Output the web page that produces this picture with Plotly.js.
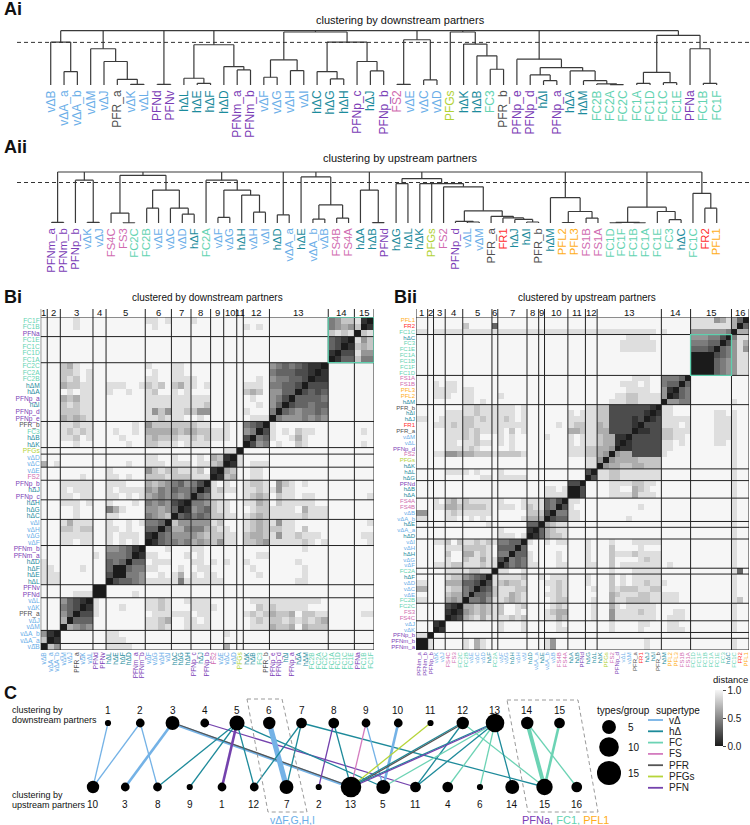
<!DOCTYPE html>
<html><head><meta charset="utf-8">
<script src="https://cdn.plot.ly/plotly-3.0.1.min.js"></script>
<style>body{margin:0;background:#fff}</style>
</head><body><div id="chart" style="width:750px;height:825px"></div>
<script>
// ================= DATA =================
const downLabels = ['vΔB','vΔA_a','vΔA_b','vΔM','vΔJ','PFR_a','vΔK','vΔL','PFNd','PFNv','hΔL','hΔE','hΔF','hΔD','PFNm_a','PFNm_b','vΔF','vΔG','vΔH','vΔI','hΔC','hΔG','hΔH','PFNp_c','hΔJ','PFNp_b','FS2','vΔE','vΔC','vΔD','PFGs','hΔK','hΔB','FC3','PFR_b','PFNp_e','PFNp_d','hΔI','PFNp_a','hΔA','hΔM','FC2B','FC2A','FC2C','FC1A','FC1D','FC1C','FC1E','PFNa','FC1B','FC1F'];
const downClusterSizes = [1,2,5,2,6,4,3,3,2,2,1,4,9,4,3];
const upLabels = ['PFNm_a','PFNm_b','PFNp_b','vΔK','vΔJ','FS4C','FS3','FC2C','FC2B','vΔE','vΔC','vΔD','hΔF','FC2A','vΔF','vΔG','hΔH','vΔH','vΔI','hΔD','vΔA_a','hΔE','vΔA_b','vΔB','FS4B','FS4A','hΔA','hΔB','PFNd','hΔG','hΔL','hΔK','PFGs','FS2','PFNp_d','vΔL','vΔM','PFR_a','FR1','hΔJ','hΔI','PFR_b','hΔM','PFL2','PFL3','FS1B','FS1A','FC1D','FC1F','FC1B','FC1A','FC1E','FC3','hΔC','FC1C','FR2','PFL1'];
const upClusterSizes = [2,1,2,3,5,1,5,2,1,4,3,2,11,5,7,3];
const upNodeOrder = [10,3,8,9,1,12,7,2,13,5,11,4,6,14,15,16];
const downCut = 0.804;
const upCut = 0.794;

// dendrograms: [height, child, child, ...]; leaves are type names
const treeDown = [1.025,
  [0.81, 'vΔB', [0.253, 'vΔA_a', 'vΔA_b']],
  [0.684, 'vΔM', [0.443, 'vΔJ', [0.108, 'PFR_a', [0.013, 'vΔK', 'vΔL']]]],
  [0.012, 'PFNd', 'PFNv'],
  [0.759, [0.127, 'hΔL', [0.032, 'hΔE', 'hΔF']], [0.348, 'hΔD', [0.285, 'PFNm_a', 'PFNm_b']]],
  [1.0, [0.475, [0.146, 'vΔF', 'vΔG'], [0.272, 'vΔH', 'vΔI']],
        [0.81, [0.253, 'hΔC', [0.114, 'hΔG', 'hΔH']], [0.443, 'PFNp_c', [0.266, 'hΔJ', 'PFNp_b']]]],
  [0.854, [0.013, 'FS2', 'vΔE'], [0.095, 'vΔC', 'vΔD']],
  [1.0, 'PFGs', [0.772, 'hΔK', [0.551, 'hΔB', [0.297, 'FC3', 'PFR_b']]]],
  [0.487, 'PFNp_e', [0.329, [0.19, 'PFNp_d', [0.082, 'hΔI', 'PFNp_a']], [0.266, 'hΔA', [0.082, 'hΔM', [0.02, 'FC2B', [0.006, 'FC2A', 'FC2C']]]]]],
  [0.937, [0.24, [0.032, 'FC1A', 'FC1D'], [0.044, 'FC1C', 'FC1E']], [0.684, 'PFNa', [0.032, 'FC1B', 'FC1F']]]
];
const treeUp = [1.0,
  [0.013, 'PFNm_a', 'PFNm_b'],
  [0.839, 'PFNp_b', [0.013, 'vΔK', 'vΔJ']],
  [0.935, [0.194, 'FS4C', [0.005, 'FS3', 'FC2C']], [0.645, [0.29, 'FC2B', 'vΔE'], [0.29, 'vΔC', [0.174, 'vΔD', 'hΔF']]]],
  [0.839, 'FC2A', [0.645, [0.11, 'vΔF', 'vΔG'], [0.548, 'hΔH', [0.213, 'vΔH', 'vΔI']]]],
  [0.161, 'hΔD', 'vΔA_a'],
  [0.903, 'hΔE', [0.355, [0.077, 'vΔA_b', 'vΔB'], [0.097, 'FS4B', 'FS4A']]],
  [0.645, 'hΔA', [0.006, 'hΔB', 'PFNd']],
  [0.871, [0.774, 'hΔG', 'hΔL'], [0.774, 'hΔK', 'PFGs', [0.71, 'FS2', [0.239, [0.03, 'PFNp_d', [0.02, 'vΔL', 'vΔM']], [0.13, 'PFR_a', [0.1, 'FR1', [0.07, 'hΔJ', [0.02, 'hΔI', 'PFR_b']]]]]]]],
  [0.497, 'hΔM', [0.226, [0.01, 'PFL2', 'PFL3'], [0.097, 'FS1B', 'FS1A']]],
  [0.31, [0.012, [0.005, 'FC1D', 'FC1F'], [0.005, 'FC1B', 'FC1A']], [0.226, 'FC1E', [0.065, 'FC3', 'hΔC']]],
  [0.581, 'FC1C', [0.29, 'FR2', 'PFL1']]
];

// distance matrices, lower triangle, row i (i>=1) lists columns 0..i-1; digit d = distance d/9
const distDown = [
"7","5 1","9 99","9 99 6","9 99 53","9 99 432","9 99 5321","9 99 99888","9 99 99999 0",
"8 88 99999 99","8 88 99999 99 2","8 89 99989 99 30","8 99 99999 99 343","9 99 99999 89 4443","9 99 99999 99 55431",
"9 99 88988 99 898989","9 99 88888 99 898889 1","9 99 77877 99 889899 33","9 99 86888 99 899898 443",
"9 99 99899 99 889999 4567","9 99 99899 99 468999 5565 3","9 99 88898 99 899989 4545 21",
"9 99 88988 99 889898 6545 454","9 99 89888 99 898888 5645 344 3","9 99 88888 99 888999 6765 435 42",
"9 99 99989 99 889899 7778 777 888","9 99 99999 99 899999 5787 788 879 1",
"6 98 99999 99 999899 8889 888 988 76","9 99 99999 99 999999 8899 899 989 67 1",
"9 99 99999 99 999999 9999 999 999 99 88",
"9 99 99899 99 999899 7788 898 888 99 99 9","9 99 88798 99 998999 7677 788 787 88 89 9 2",
"9 99 87878 99 989989 6666 676 677 88 89 9 54","9 99 88788 99 999989 5777 777 788 99 89 9 432",
"9 99 67678 99 999999 8878 889 989 99 99 9 9888","9 99 77788 99 999999 8575 887 755 99 99 9 8999 4",
"9 99 78788 99 999999 8888 888 887 99 99 9 9989 53","9 99 67688 99 999999 8888 888 888 99 99 9 9899 542",
"9 99 98988 99 899899 8799 898 999 99 99 9 7679 5533","9 99 67788 99 888998 7879 768 898 99 99 9 8889 44332",
"9 99 78798 99 999999 8899 888 899 99 99 9 9989 544332","9 99 77898 99 999999 9899 889 999 99 99 9 9999 4333221",
"9 99 76899 99 999999 8999 889 999 99 99 9 9999 54343211",
"9 99 99999 99 999999 9999 999 999 99 99 9 9999 999999999","9 99 99999 99 999999 9999 999 999 99 99 9 9999 999999999 1",
"9 99 99999 99 999999 9999 999 999 99 99 9 9999 999999999 32","9 99 99999 99 999999 9999 999 999 99 99 9 9999 999999999 321",
"9 99 99999 99 999999 9999 999 999 99 99 9 9999 999999999 7878","9 99 99899 99 999999 9899 999 999 99 99 9 8989 999999999 4565 7",
"9 99 99899 99 999999 8898 999 899 99 99 9 9999 999999999 4577 81"
];
const distUp = [
"0","88","99 9","99 9 1","99 9 99","99 9 99 1","99 9 99 21","88 9 99 656","99 9 99 766 4","66 9 99 877 43",
"88 9 99 666 332","99 9 99 877 5432","99 9 99 888 87788","99 9 88 877 88878 8","99 9 99 899 78868 8 2",
"99 9 99 799 66878 9 44","99 9 99 888 77778 9 333","99 9 88 797 88787 8 4433","99 9 99 999 99999 9 88898",
"99 9 99 999 99999 9 89999 1","99 9 99 999 99998 9 99999 33","88 9 99 889 98989 9 99998 66 6",
"55 9 99 878 88888 9 99999 77 7 2","99 9 88 667 77778 9 88898 78 8 34","99 9 89 768 78888 9 89998 88 8 342",
"99 9 99 999 99999 9 99999 99 9 8888","99 9 99 999 99999 9 99999 99 9 8898 0","99 9 99 999 99999 9 99999 99 9 9999 22",
"99 9 99 999 99988 9 88888 99 9 9999 999","99 9 99 888 89899 9 89999 99 9 9999 999 2",
"99 9 99 999 99999 9 99999 99 9 9999 999 88","99 9 99 999 99999 9 99999 99 9 9999 999 88 5",
"99 9 88 556 66777 8 77778 99 9 9999 888 77 65","99 9 99 888 87899 9 99899 99 9 9999 888 77 665",
"99 9 99 889 88788 9 89899 99 9 9999 898 88 7661","99 9 99 888 78799 9 89899 99 9 8999 898 88 76611",
"99 9 99 888 78788 8 89798 99 9 9999 667 88 662222","99 9 88 878 77888 8 88888 99 9 9989 877 88 6722221",
"88 9 98 888 77878 8 87898 99 9 9999 888 88 77222212","99 9 99 888 88788 8 88898 99 9 9999 898 88 772222221",
"99 9 99 999 88788 8 88898 99 9 9999 999 88 7722222221",
"99 9 99 999 88989 9 99999 99 9 9999 999 99 99888778888","99 9 88 899 88999 9 89999 99 9 9999 999 99 99988778888 5",
"99 9 88 889 88999 9 99999 99 9 9999 999 99 99999888899 51","99 9 89 889 99999 9 99999 99 9 9999 999 99 99998889899 433",
"99 9 99 999 99999 9 99999 99 9 9999 999 99 99999988899 4443",
"99 9 99 999 99999 9 99999 99 9 9999 999 99 99999999999 99999","99 9 99 999 99999 9 99999 99 9 9999 999 99 99999999999 99999 0",
"99 9 99 999 99999 9 99999 99 9 9999 999 99 99999999999 99999 00","99 9 99 999 99999 9 99999 99 9 9999 999 99 99999999999 99999 000",
"99 9 99 999 99999 9 99999 99 9 9999 999 99 99998888889 99999 3332","99 9 99 999 99999 9 99999 99 9 9999 999 99 99998888889 99999 44433",
"99 9 99 999 99999 9 99999 99 9 9999 999 99 99999888899 99999 555442",
"88 9 88 888 88888 8 88888 88 8 8888 888 88 88888888889 89999 5555554",
"99 9 99 999 79999 3 99999 99 9 9999 999 99 99999999999 99999 8888888 6",
"99 9 99 999 99999 9 99999 99 9 9999 999 99 99999999999 99999 8888568 63"
];
const sizeLegend = [5, 10, 15];
const supertypes = ['vΔ','hΔ','FC','FS','PFR','PFGs','PFN'];
const distTicks = [0, 0.5, 1];

// ================= STYLE =================
const FONT = 'Liberation Sans, Arial, Helvetica, sans-serif';
const labelColor = {'vΔ':'#6aaee8','hΔ':'#1b8b9c','FC':'#63d3b1','FS':'#d06bb0','PFR':'#505050','PFGs':'#b2d235','PFN':'#7b3db6','FR':'#ff2e2e','PFL':'#ffae1a'};
const lineColor = {'vΔ':'#74b2e6','hΔ':'#1d8a9a','FC':'#6cd3b4','FS':'#d47cbf','PFR':'#555555','PFGs':'#b6d53a','PFN':'#7442ad'};
function superOf(n){
  if (n.startsWith('vΔ')) return 'vΔ';
  if (n.startsWith('hΔ')) return 'hΔ';
  if (n.startsWith('FC')) return 'FC';
  if (n.startsWith('FS')) return 'FS';
  if (n.startsWith('FR')) return 'FR';
  if (n.startsWith('PFR')) return 'PFR';
  if (n.startsWith('PFGs')) return 'PFGs';
  if (n.startsWith('PFL')) return 'PFL';
  return 'PFN';
}
const colored = n => '<span style="color:' + labelColor[superOf(n)] + '">' + n + '</span>';
const W = 750, H = 825;
const px = x => x / W, py = y => 1 - y / H;

// ================= BUILD =================
function treeLines(tree, labels){
  const xs = [], ys = [];
  function rec(node){
    if (typeof node === 'string') return {x: labels.indexOf(node), h: 0};
    const h = node[0];
    const kids = node.slice(1).map(rec);
    const xv = kids.map(k => k.x);
    const xmin = Math.min(...xv), xmax = Math.max(...xv);
    kids.forEach(k => { xs.push(k.x, k.x, null); ys.push(k.h, h, null); });
    xs.push(xmin, xmax, null); ys.push(h, h, null);
    return {x: (xmin + xmax) / 2, h};
  }
  rec(tree);
  return {xs, ys};
}
function buildMatrix(rows, n){
  const z = Array.from({length: n}, () => Array(n).fill(1));
  for (let i = 0; i < n; i++) z[i][i] = 0;
  rows.forEach((s, k) => {
    const i = k + 1, t = s.replace(/\s+/g, '');
    for (let j = 0; j < i; j++) {
      const c = t[j];
      const v = (c === undefined) ? 1 : parseInt(c, 10) / 9;
      z[i][j] = v; z[j][i] = v;
    }
  });
  return z;
}
function cuts(sizes){ const c = [0]; sizes.forEach(s => c.push(c[c.length - 1] + s)); return c; }
function clusterOf(labels, sizes){
  const m = {}; let idx = 0;
  sizes.forEach((s, c) => { for (let k = 0; k < s; k++) m[labels[idx++]] = c + 1; });
  return m;
}

const traces = [];
const shapes = [];
const annotations = [];

// ---- A: dendrograms ----
const tD = treeLines(treeDown, downLabels);
traces.push({x: tD.xs, y: tD.ys, xaxis: 'x', yaxis: 'y', mode: 'lines', line: {color: '#3a3a3a', width: 1.2}, hoverinfo: 'skip'});
const tU = treeLines(treeUp, upLabels);
traces.push({x: tU.xs, y: tU.ys, xaxis: 'x2', yaxis: 'y2', mode: 'lines', line: {color: '#3a3a3a', width: 1.2}, hoverinfo: 'skip'});
shapes.push({type: 'line', xref: 'paper', yref: 'y', x0: px(17), x1: 1, y0: downCut, y1: downCut, line: {color: '#333', width: 1, dash: '4px,3px'}});
shapes.push({type: 'line', xref: 'paper', yref: 'y2', x0: px(17), x1: 1, y0: upCut, y1: upCut, line: {color: '#333', width: 1, dash: '4px,3px'}});

// ---- B: heatmaps ----
const zDown = buildMatrix(distDown, downLabels.length);
const zUp = buildMatrix(distUp, upLabels.length);
const cscale = [[0, '#1b1b1b'], [1, '#f6f6f6']];
traces.push({type: 'heatmap', z: zDown, xaxis: 'x3', yaxis: 'y3', zmin: 0, zmax: 1, colorscale: cscale, showscale: false, hoverinfo: 'skip'});
traces.push({type: 'heatmap', z: zUp, xaxis: 'x4', yaxis: 'y4', zmin: 0, zmax: 1, colorscale: cscale, hoverinfo: 'skip',
  colorbar: {x: px(715), xanchor: 'left', y: py(718), yanchor: 'middle', len: 56, lenmode: 'pixels', thickness: 8,
    outlinewidth: 0, xpad: 0, ypad: 0, tickvals: distTicks, ticktext: distTicks.map(v => v.toFixed(1)),
    ticks: 'outside', ticklen: 3, tickfont: {size: 10, family: FONT, color: '#222'}}});

function heatDecor(sizes, xr, yr){
  const c = cuts(sizes), N = c[c.length - 1];
  c.forEach(b => {
    shapes.push({type: 'line', xref: xr, yref: 'paper', x0: b - 0.5, x1: b - 0.5, y0: py(650), y1: py(309), line: {color: '#222', width: 1}});
    shapes.push({type: 'line', xref: xr, yref: yr, x0: -0.5, x1: N - 0.5, y0: b - 0.5, y1: b - 0.5, line: {color: '#222', width: 1}});
  });
  for (let k = 0; k < sizes.length; k++) {
    annotations.push({xref: xr, yref: 'paper', x: (c[k] + c[k + 1]) / 2 - 0.5, y: py(312), text: String(k + 1), showarrow: false,
      font: {size: 9.5, family: FONT, color: '#111'}, xanchor: 'center', yanchor: 'middle'});
  }
  return c;
}
const cD = heatDecor(downClusterSizes, 'x3', 'y3');
const cU = heatDecor(upClusterSizes, 'x4', 'y4');
// highlighted FC1 blocks
shapes.push({type: 'rect', xref: 'x3', yref: 'y3', x0: cD[13] - 0.5, x1: cD[15] - 0.5, y0: cD[13] - 0.5, y1: cD[15] - 0.5, line: {color: '#5fd0ae', width: 1.3}});
shapes.push({type: 'rect', xref: 'x4', yref: 'y4', x0: cU[14] - 0.5, x1: cU[15] - 0.5, y0: cU[14] - 0.5, y1: cU[15] - 0.5, line: {color: '#5fd0ae', width: 1.3}});

// ---- C: cluster correspondence graph ----
const TOPSHIFT = 0.465;
const dOf = clusterOf(downLabels, downClusterSizes);
const uOf = clusterOf(upLabels, upClusterSizes);
const edgeMap = {};
downLabels.forEach(n => {
  if (uOf[n] === undefined) return;
  const st = superOf(n);
  if (!lineColor[st]) return;
  const key = dOf[n] + '|' + uOf[n];
  edgeMap[key] = edgeMap[key] || {};
  edgeMap[key][st] = (edgeMap[key][st] || 0) + 1;
});
Object.keys(edgeMap).forEach(key => {
  const [d, u] = key.split('|').map(Number);
  const sts = supertypes.filter(s => edgeMap[key][s]);
  sts.forEach((st, k) => {
    const off = (k - (sts.length - 1) / 2) * 0.075;
    traces.push({x: [d - 1 + TOPSHIFT + off, upNodeOrder.indexOf(u) + off], y: [1, 0], xaxis: 'x5', yaxis: 'y5', mode: 'lines',
      line: {color: lineColor[st], width: 1.3 * edgeMap[key][st]}, hoverinfo: 'skip'});
  });
});
const nodeSize = n => 6.2 * Math.sqrt(n);
traces.push({x: downClusterSizes.map((s, i) => i + TOPSHIFT), y: downClusterSizes.map(() => 1), xaxis: 'x5', yaxis: 'y5', mode: 'markers',
  marker: {color: '#000', opacity: 1, size: downClusterSizes.map(nodeSize), line: {width: 0}}, hoverinfo: 'skip'});
traces.push({x: upNodeOrder.map((c, i) => i), y: upNodeOrder.map(() => 0), xaxis: 'x5', yaxis: 'y5', mode: 'markers',
  marker: {color: '#000', opacity: 1, size: upNodeOrder.map(c => nodeSize(upClusterSizes[c - 1])), line: {width: 0}}, hoverinfo: 'skip'});
downClusterSizes.forEach((s, i) => annotations.push({xref: 'x5', yref: 'y5', x: i + TOPSHIFT, y: 1, yshift: 13, text: String(i + 1), showarrow: false, font: {size: 10, family: FONT, color: '#111'}}));
upNodeOrder.forEach((c, i) => annotations.push({xref: 'x5', yref: 'y5', x: i, y: 0, yshift: -17, text: String(c), showarrow: false, font: {size: 10, family: FONT, color: '#111'}}));

// size legend
const lgX = (609 - 93) / 32.25, lgYpx = [727, 747, 773];
traces.push({x: sizeLegend.map(() => lgX), y: lgYpx.map(p => (787 - p) / 64), xaxis: 'x5', yaxis: 'y5', mode: 'markers',
  marker: {color: '#000', opacity: 1, size: sizeLegend.map(nodeSize), line: {width: 0}}, hoverinfo: 'skip'});
sizeLegend.forEach((s, k) => annotations.push({xref: 'paper', yref: 'paper', x: px(626), y: py(lgYpx[k]), text: String(s), showarrow: false, xanchor: 'left', yanchor: 'middle', font: {size: 10, family: FONT, color: '#111'}}));
annotations.push({xref: 'paper', yref: 'paper', x: px(623), y: py(710), text: 'types/group', showarrow: false, xanchor: 'center', yanchor: 'middle', font: {size: 10, family: FONT, color: '#111'}});
annotations.push({xref: 'paper', yref: 'paper', x: px(654), y: py(710), text: 'supertype', showarrow: false, xanchor: 'left', yanchor: 'middle', font: {size: 10, family: FONT, color: '#111'}});
supertypes.forEach((st, k) => {
  const yy = 720 + 11.3 * k;
  shapes.push({type: 'line', xref: 'paper', yref: 'paper', x0: px(648), x1: px(663), y0: py(yy), y1: py(yy), line: {color: lineColor[st], width: 1.8}});
  annotations.push({xref: 'paper', yref: 'paper', x: px(667), y: py(yy), text: st, showarrow: false, xanchor: 'left', yanchor: 'middle', font: {size: 10, family: FONT, color: '#222'}});
});
annotations.push({xref: 'paper', yref: 'paper', x: px(730), y: py(679), text: 'distance', showarrow: false, xanchor: 'center', yanchor: 'middle', font: {size: 9.5, family: FONT, color: '#111'}});

// dashed groupings
function poly(pts){ return 'M ' + pts.map(p => px(p[0]) + ',' + py(p[1])).join(' L ') + ' Z'; }
shapes.push({type: 'path', xref: 'paper', yref: 'paper', path: poly([[247,699],[282,699],[307,812],[268,812]]), line: {color: '#9a9a9a', width: 1, dash: '4px,3px'}});
shapes.push({type: 'path', xref: 'paper', yref: 'paper', path: poly([[507,700],[578,700],[598,812],[528,812]]), line: {color: '#9a9a9a', width: 1, dash: '4px,3px'}});
annotations.push({xref: 'paper', yref: 'paper', x: px(292), y: py(820), text: 'vΔF,G,H,I', showarrow: false, xanchor: 'center', yanchor: 'middle', font: {size: 10.5, family: FONT, color: labelColor['vΔ']}});
annotations.push({xref: 'paper', yref: 'paper', x: px(565), y: py(820), showarrow: false, xanchor: 'center', yanchor: 'middle', font: {size: 11, family: FONT},
  text: '<span style="color:' + labelColor.PFN + '">PFNa,</span> <span style="color:' + labelColor.FC + '">FC1,</span> <span style="color:' + labelColor.PFL + '">PFL1</span>'});
[['clustering by', 710], ['downstream partners', 720], ['clustering by', 795], ['upstream partners', 805]].forEach(t =>
  annotations.push({xref: 'paper', yref: 'paper', x: px(10), y: py(t[1]), text: t[0], showarrow: false, xanchor: 'left', yanchor: 'middle', font: {size: 9, family: FONT, color: '#111'}}));

// ---- titles & panel letters ----
const titles = [
  ['Ai', 2, 9, 18, true, 'left'], ['clustering by downstream partners', 401, 20, 11, false, 'center'],
  ['Aii', 2, 147, 18, true, 'left'], ['clustering by upstream partners', 401, 158, 11, false, 'center'],
  ['Bi', 2, 297, 18, true, 'left'], ['clustered by downstream partners', 207, 297, 10, false, 'center'],
  ['Bii', 392, 297, 18, true, 'left'], ['clustered by upstream partners', 587, 297, 10, false, 'center'],
  ['C', 2, 693, 18, true, 'left']
];
titles.forEach(t => annotations.push({xref: 'paper', yref: 'paper', x: px(t[1]), y: py(t[2]), text: t[4] ? '<b>' + t[0] + '</b>' : t[0],
  showarrow: false, xanchor: t[5], yanchor: 'middle', font: {size: t[3], family: FONT, color: '#111'}}));

// ================= LAYOUT =================
const hidden = {visible: false, fixedrange: true};
const ax = (o) => Object.assign({showgrid: false, zeroline: false, showline: false, ticks: '', fixedrange: true}, o);
const layout = {
  width: W, height: H, margin: {l: 0, r: 0, t: 0, b: 0}, paper_bgcolor: '#fff', plot_bgcolor: 'rgba(0,0,0,0)',
  showlegend: false, font: {family: FONT},
  xaxis: ax({domain: [px(37.4), px(730)], range: [-1, 51], anchor: 'y', tickvals: downLabels.map((_, i) => i), ticktext: downLabels.map(colored), tickangle: -90, tickfont: {size: 12, family: FONT}}),
  yaxis: Object.assign({domain: [py(87), py(25)], range: [-0.0377, 1.132], anchor: 'x'}, hidden),
  xaxis2: ax({domain: [px(39.8), px(728.6)], range: [-1, 57], anchor: 'y2', tickvals: upLabels.map((_, i) => i), ticktext: upLabels.map(colored), tickangle: -90, tickfont: {size: 11.3, family: FONT}}),
  yaxis2: Object.assign({domain: [py(225), py(165)], range: [-0.0392, 1.1373], anchor: 'x2'}, hidden),
  xaxis3: ax({domain: [px(40.7), px(374)], range: [-0.5, downLabels.length - 0.5], anchor: 'y3', tickvals: downLabels.map((_, i) => i), ticktext: downLabels.map(colored), tickangle: -90, tickfont: {size: 6.6, family: FONT}}),
  yaxis3: ax({domain: [py(650), py(317)], range: [-0.5, downLabels.length - 0.5], anchor: 'x3', tickvals: downLabels.map((_, i) => i), ticktext: downLabels.map(colored), tickfont: {size: 6.6, family: FONT}}),
  xaxis4: ax({domain: [px(416), px(749)], range: [-0.5, upLabels.length - 0.5], anchor: 'y4', tickvals: upLabels.map((_, i) => i), ticktext: upLabels.map(colored), tickangle: -90, tickfont: {size: 6, family: FONT}}),
  yaxis4: ax({domain: [py(650), py(317)], range: [-0.5, upLabels.length - 0.5], anchor: 'x4', tickvals: upLabels.map((_, i) => i), ticktext: upLabels.map(colored), tickfont: {size: 6, family: FONT}}),
  xaxis5: Object.assign({domain: [0, 1], range: [-93 / 32.25, (750 - 93) / 32.25], anchor: 'y5'}, hidden),
  yaxis5: Object.assign({domain: [0, 1], range: [(787 - 825) / 64, 787 / 64], anchor: 'x5'}, hidden),
  shapes, annotations
};
Plotly.newPlot('chart', traces, layout, {staticPlot: true, displayModeBar: false});
</script></body></html>
